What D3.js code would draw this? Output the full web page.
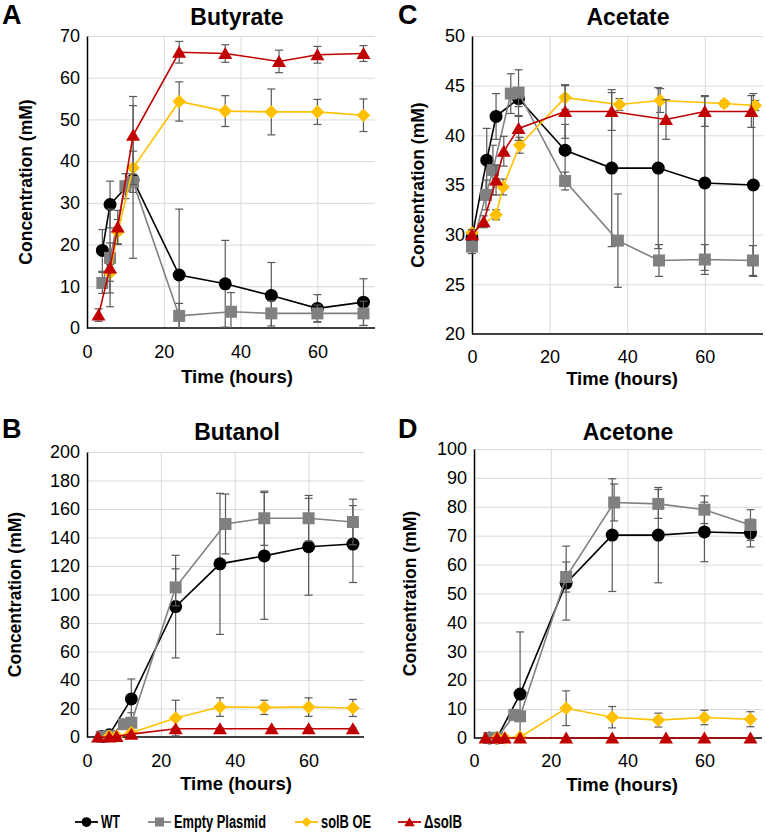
<!DOCTYPE html>
<html><head><meta charset="utf-8">
<script src="https://cdn.jsdelivr.net/npm/d3@7/dist/d3.min.js"></script>
<style>body{margin:0;background:#fff} text{font-family:"Liberation Sans",Arial,sans-serif}</style>
</head><body><svg id="c" width="766" height="832"></svg>
<script>
// ---------- data ----------
const seriesNames = ["WT", "Empty Plasmid", "solB OE", "\u0394solB"];
const seriesColors = ["#000000", "#808080", "#FFC000", "#C00000"];
const seriesShapes = ["circle", "square", "diamond", "triangle"];
const xTicks = [0, 20, 40, 60];
const butyrateTicks = [0, 10, 20, 30, 40, 50, 60, 70];
const acetateTicks = [20, 25, 30, 35, 40, 45, 50];
const butanolTicks = [0, 20, 40, 60, 80, 100, 120, 140, 160, 180, 200];
const acetoneTicks = [0, 10, 20, 30, 40, 50, 60, 70, 80, 90, 100];

// [time (h), concentration (mM), error]
const butyrateWT = [[4,18.6,5],[6,29.6,5.6],[12,35.5,3],[24,12.7,15.8],[36,10.6,10.4],[48,7.8,7.9],[60,4.7,3.3],[72,6.2,5.6]];
const butyrateEP = [[4,10.8,2.5],[6,16.8,11.7],[10,34,3],[12,35,18.3],[24,2.9,3],[37.5,3.9,4.6],[48,3.5,3],[60,3.5,2],[72,3.5,2.9]];
const butyrateOE = [[6,13.2,2],[8,23,3],[12,38.4,4],[24,54.3,4.7],[36,52,3.7],[48,51.8,5.5],[60,51.8,3],[72,51,3.9]];
const butyrateKO = [[3,3.1,1.5],[6,14.4,6],[8,24.2,4],[12,46.2,9.3],[24,66.1,2.6],[36,65.8,2.1],[50,63.9,2.7],[60,65.5,2],[72,65.8,1.9]];

const acetateWT = [[0,29.7,0.5],[3.8,37.5,3.2],[6.2,41.9,2.3],[12,43.7,0.8],[24,38.5,2.6],[36,36.7,7.9],[48,36.7,8.1],[60,35.2,8.8],[72.5,35,9.2]];
const acetateEP = [[0,28.8,0.7],[3.6,34,1.5],[5.4,36.5,2.5],[10,44.2,2],[12,44.3,2.3],[24,35.4,0.9],[37.6,29.4,4.7],[48.2,27.4,1.6],[60,27.5,1.5],[72.4,27.4,1.5]];
const acetateOE = [[0,30.2,0.3],[6.2,32,0.5],[8,34.8,0.8],[12.3,39,0.8],[24,43.8,1.2],[38,43.1,0.6],[48.5,43.5,1.2],[65,43.2,0.3],[73,43,0.5]];
const acetateKO = [[0,30,0.5],[3,31.3,0.6],[6.2,35.5,1.5],[8.2,38.4,1.5],[12,40.7,1.2],[24,42.4,2.7],[36,42.4,1.9],[50,41.6,2],[60,42.4,1.5],[72,42.4,1.6]];

const butanolWT = [[4,0.3,0.3],[6,1.5,0.5],[12,26.7,14],[24,91.5,36],[36,121.5,49.5],[48,127.1,44.5],[60,133.5,34],[72,135.4,27]];
const butanolEP = [[4,0.2,0.2],[6,0.8,0.5],[10,9,2],[12,10,7],[24,105,13],[37.5,149.5,21],[48,153.5,19],[60,153.5,16],[72,150.9,16]];
const butanolOE = [[6,0.5,0.3],[8,0.6,0.3],[12,3,1],[24,13.3,12.5],[36,21,6.5],[48,20.8,5],[60,21,6.5],[72,20.4,6]];
const butanolKO = [[3,0,0],[6,0,0],[8,0.3,0.2],[12,2,0.5],[24,5.8,0.5],[36,5.8,0.5],[50,5.8,0.5],[60,5.8,0.5],[72,5.8,0.5]];

const acetoneWT = [[4,0,0],[6,0,0],[12,15.2,21.5],[24,53.6,12.8],[36,70.2,19.5],[48,70.2,16.5],[60,71.3,10.3],[72,70.9,4.8]];
const acetoneEP = [[4,0,0],[6,0,0],[10.5,8,1],[12,7.5,1],[24,55.7,5.2],[36.5,81.5,6.4],[48,81,5],[60,79,4.8],[72,73.7,5.3]];
const acetoneOE = [[6,0,0],[8,0,0],[12,0.3,0.3],[24,10.3,6],[36,7.2,3.7],[48,6.2,2.4],[60,7.1,2.5],[72,6.5,2.6]];
const acetoneKO = [[3,0,0],[6,0,0],[8,0,0],[12,0,0],[24,0,0],[36,0,0],[50,0,0],[60,0,0],[72,0,0]];

// ---------- layout ----------
const panels = [
  {letter:"A", title:"Butyrate", series:[butyrateWT,butyrateEP,butyrateOE,butyrateKO], ticks:butyrateTicks,
   x0:87, x1:375, yb:328, yt:36, titleX:237, titleY:25, letterX:2, letterY:24, yTitleX:26, xTitleX:237, xTitleY:383, tickDy:30},
  {letter:"C", title:"Acetate", series:[acetateWT,acetateEP,acetateOE,acetateKO], ticks:acetateTicks,
   x0:472, x1:763, yb:334, yt:36, titleX:628, titleY:25, letterX:398, letterY:24, yTitleX:418, xTitleX:622, xTitleY:385, tickDy:29},
  {letter:"B", title:"Butanol", series:[butanolWT,butanolEP,butanolOE,butanolKO], ticks:butanolTicks,
   x0:87, x1:364, yb:737, yt:452, titleX:237, titleY:440, letterX:2, letterY:438, yTitleX:15, xTitleX:236, xTitleY:790, tickDy:30},
  {letter:"D", title:"Acetone", series:[acetoneWT,acetoneEP,acetoneOE,acetoneKO], ticks:acetoneTicks,
   x0:474, x1:762, yb:738, yt:449, titleX:628, titleY:440, letterX:398, letterY:438, yTitleX:410, xTitleX:622, xTitleY:791, tickDy:29}
];

function markerPath(shape, s) {
  let h, w;
  switch (shape) {
    case "circle": return d3.symbol(d3.symbolCircle, Math.PI * (6.5*s) ** 2)();
    case "square": h = 6*s; return `M${-h},${-h}H${h}V${h}H${-h}Z`;
    case "diamond": h = 6.8*s; return `M0,${-h}L${h},0L0,${h}L${-h},0Z`;
    case "triangle": w = 7*s; h = 6.5*s; return `M0,${-h}L${w},${h*0.85}L${-w},${h*0.85}Z`;
  }
}

const svg = d3.select("#c");

panels.forEach(p => {
  const x = d3.scaleLinear().domain([0, 75]).range([p.x0, p.x1]);
  const y = d3.scaleLinear().domain([p.ticks[0], p.ticks[p.ticks.length-1]]).range([p.yb, p.yt]);
  const g = svg.append("g");

  // gridlines
  g.append("g").attr("transform", `translate(${p.x0},0)`)
    .call(d3.axisLeft(y).tickValues(p.ticks.slice(1)).tickSize(-(p.x1 - p.x0)).tickFormat(""))
    .call(a => a.select(".domain").remove())
    .call(a => a.selectAll("line").attr("stroke", "#d9d9d9").attr("stroke-width", 1));
  g.append("g").attr("transform", `translate(0,${p.yb})`)
    .call(d3.axisBottom(x).tickValues(xTicks.slice(1)).tickSize(-(p.yb - p.yt)).tickFormat(""))
    .call(a => a.select(".domain").remove())
    .call(a => a.selectAll("line").attr("stroke", "#d9d9d9").attr("stroke-width", 1));

  // axes
  g.append("g").attr("transform", `translate(${p.x0},0)`)
    .call(d3.axisLeft(y).tickValues(p.ticks).tickSize(0).tickPadding(7))
    .call(a => a.select(".domain").attr("stroke", "#000").attr("stroke-width", 1.5))
    .call(a => a.selectAll("text").attr("font-size", 18).attr("fill", "#000").attr("font-family", '"Liberation Sans",Arial,sans-serif'));
  g.append("g").attr("transform", `translate(0,${p.yb})`)
    .call(d3.axisBottom(x).tickValues(xTicks).tickSize(0).tickPadding(0))
    .call(a => a.select(".domain").attr("stroke", "#000").attr("stroke-width", 1.5).attr("d", `M${p.x0},0H${p.x1}`))
    .call(a => a.selectAll("text").attr("font-size", 18).attr("fill", "#000").attr("dy", null)
       .attr("y", p.tickDy).attr("font-family", '"Liberation Sans",Arial,sans-serif'));

  // series
  p.series.forEach((data, si) => {
    const col = seriesColors[si];
    const sg = g.append("g");
    data.filter(d => d[2] > 0).forEach(d => {
      const cx = x(d[0]);
      const lo = Math.max(d[1] - d[2], y.domain()[0]);
      const hi = Math.min(d[1] + d[2], y.domain()[1]);
      sg.append("line").attr("x1", cx).attr("x2", cx).attr("y1", y(lo)).attr("y2", y(hi))
        .attr("stroke", "#5a5a5a").attr("stroke-width", 1.2);
      if (hi === d[1] + d[2])
        sg.append("line").attr("x1", cx-4).attr("x2", cx+4).attr("y1", y(hi)).attr("y2", y(hi)).attr("stroke", "#5a5a5a").attr("stroke-width", 1.2);
      if (lo === d[1] - d[2])
        sg.append("line").attr("x1", cx-4).attr("x2", cx+4).attr("y1", y(lo)).attr("y2", y(lo)).attr("stroke", "#5a5a5a").attr("stroke-width", 1.2);
    });
    sg.append("path").datum(data)
      .attr("d", d3.line().x(d => x(d[0])).y(d => y(d[1])))
      .attr("fill", "none").attr("stroke", col).attr("stroke-width", 1.6);
    sg.selectAll("path.m").data(data).join("path").attr("class", "m")
      .attr("transform", d => `translate(${x(d[0])},${y(d[1])})`)
      .attr("d", markerPath(seriesShapes[si], 1)).attr("fill", col);
  });

  // texts
  g.append("text").attr("x", p.titleX).attr("y", p.titleY).attr("text-anchor", "middle")
    .attr("font-size", 23).attr("font-weight", "bold").text(p.title);
  g.append("text").attr("x", p.letterX).attr("y", p.letterY)
    .attr("font-size", 27).attr("font-weight", "bold").text(p.letter);
  g.append("text").attr("transform", `translate(${p.yTitleX},${(p.yt + p.yb) / 2}) rotate(-90)`)
    .attr("text-anchor", "middle").attr("dominant-baseline", "central")
    .attr("font-size", 17.5).attr("font-weight", "bold").text("Concentration (mM)");
  g.append("text").attr("x", p.xTitleX).attr("y", p.xTitleY).attr("text-anchor", "middle")
    .attr("font-size", 18.5).attr("font-weight", "bold").text("Time (hours)");
});

// legend
const legX = [75, 148, 295, 398];
const legTextW = [19, 92, 50, 38];
const legY = 822;
seriesNames.forEach((n, i) => {
  const lg = svg.append("g");
  lg.append("line").attr("x1", legX[i]).attr("x2", legX[i] + 23).attr("y1", legY).attr("y2", legY)
    .attr("stroke", seriesColors[i]).attr("stroke-width", 1.8);
  lg.append("path").attr("transform", `translate(${legX[i] + 11.5},${legY})`)
    .attr("d", markerPath(seriesShapes[i], 0.75)).attr("fill", seriesColors[i]);
  lg.append("text").attr("x", legX[i] + 26).attr("y", legY).attr("dominant-baseline", "central")
    .attr("font-size", 18).attr("font-weight", "bold")
    .attr("textLength", legTextW[i]).attr("lengthAdjust", "spacingAndGlyphs").text(n);
});
</script></body></html>
